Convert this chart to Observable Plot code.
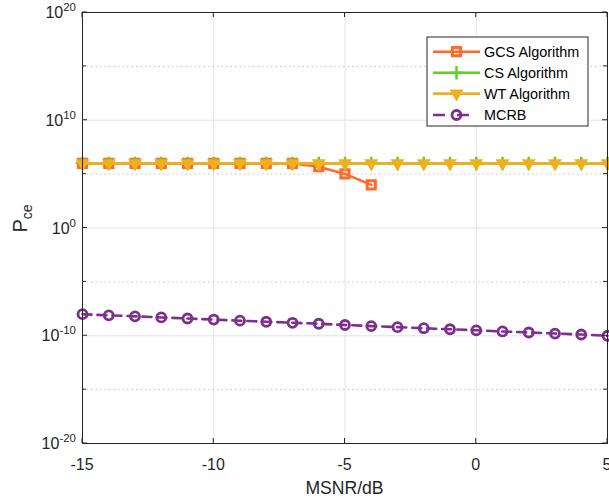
<!DOCTYPE html>
<html><head><meta charset="utf-8">
<script src="https://cdn.jsdelivr.net/npm/d3@7"></script>
<script src="https://cdn.jsdelivr.net/npm/@observablehq/plot@0.6"></script>
<style>
body{margin:0;background:#fff}
svg{font-family:"Liberation Sans",Arial,Helvetica,sans-serif}
</style>
</head><body><div id="chart"></div>
<script>
// ---- data ----
const msnr = [-15,-14,-13,-12,-11,-10,-9,-8,-7,-6,-5,-4,-3,-2,-1,0,1,2,3,4,5];
const gcsX = [-15,-14,-13,-12,-11,-10,-9,-8,-7,-6,-5,-4];
const gcsVals = [1e6,1e6,1e6,1e6,1e6,1e6,1e6,1e6,1e6,4.9e5,1.05e5,1.0e4];
const csVals = [1e6,1e6,1e6,1e6,1e6,1e6,1e6,1e6,1e6,1e6,1e6,1e6,1e6,1e6,1e6,1e6,1e6,1e6,1e6,1e6,1e6];
const wtVals = [1e6,1e6,1e6,1e6,1e6,1e6,1e6,1e6,1e6,1e6,1e6,1e6,1e6,1e6,1e6,1e6,1e6,1e6,1e6,1e6,1e6];
const mcrbVals = [1.0e-8,7.9e-9,6.3e-9,5.0e-9,4.0e-9,3.2e-9,2.5e-9,2.0e-9,1.6e-9,1.3e-9,1.0e-9,
                  7.9e-10,6.3e-10,5.0e-10,4.0e-10,3.2e-10,2.5e-10,2.0e-10,1.6e-10,1.3e-10,1.0e-10];
const seriesNames = ["GCS Algorithm","CS Algorithm","WT Algorithm","MCRB"];
const xTicks = [-15,-10,-5,0,5];
const yMajorTicks = [1e-20,1e-10,1e0,1e10,1e20];
const yMinorTicks = [1e-15,1e-5,1e5,1e15];
const xLabel = "MSNR/dB";

// ---- styles ----
const C_GCS = "#ff6a2b", C_CS = "#5fd21f", C_WT = "#edb120", C_MCRB = "#7e2f8e";
const AX = "#262626";
const LW = 2.6;

const gcs = gcsX.map((x,i)=>({x, y:gcsVals[i]}));
const cs = msnr.map((x,i)=>({x, y:csVals[i]}));
const wt = msnr.map((x,i)=>({x, y:wtVals[i]}));
const mcrb = msnr.map((x,i)=>({x, y:mcrbVals[i]}));

const plot = Plot.plot({
  width: 609, height: 500,
  marginLeft: 82, marginRight: 2, marginTop: 12, marginBottom: 57,
  style: {fontFamily: '"Liberation Sans",Arial,sans-serif', fontSize: "16px", color: AX, background: "#fff", overflow: "visible"},
  x: {domain: [-15, 5]},
  y: {type: "log", domain: [1e-20, 1e20]},
  marks: [
    Plot.ruleX(xTicks.slice(1, -1), {stroke: "#e3e3e3", strokeWidth: 1}),
    Plot.ruleY(yMajorTicks.slice(1, -1), {stroke: "#e3e3e3", strokeWidth: 1}),
    Plot.ruleY(yMinorTicks, {stroke: "#c4c4c4", strokeWidth: 1, strokeDasharray: "1.5,3"}),
    // GCS
    Plot.line(gcs, {x: "x", y: "y", stroke: C_GCS, strokeWidth: LW}),
    Plot.dot(gcs, {x: "x", y: "y", symbol: "square", r: 4.6, stroke: C_GCS, strokeWidth: 3, fill: "none"}),
    // CS
    Plot.line(cs, {x: "x", y: "y", stroke: C_CS, strokeWidth: LW}),
    Plot.dot(cs, {x: "x", y: "y", symbol: "plus", r: 4.4, stroke: C_CS, strokeWidth: 2.5, fill: "none"}),
    // WT
    Plot.line(wt, {x: "x", y: "y", stroke: C_WT, strokeWidth: LW}),
    Plot.dot(wt, {x: "x", y: "y", symbol: "triangle", rotate: 180, r: 4.2, fill: C_WT, stroke: C_WT, strokeWidth: 1.5}),
    // MCRB
    Plot.line(mcrb, {x: "x", y: "y", stroke: C_MCRB, strokeWidth: LW, strokeDasharray: "9,6"}),
    Plot.dot(mcrb, {x: "x", y: "y", symbol: "circle", r: 4.5, stroke: C_MCRB, strokeWidth: 2.8, fill: "none"}),
    Plot.frame({stroke: AX, strokeWidth: 1}),
    Plot.axisX({ticks: xTicks, tickSize: 0, tickPadding: 0, label: null, tickFormat: () => ""}),
    Plot.axisY({ticks: yMajorTicks, tickSize: 0, tickPadding: 0, label: null, tickFormat: () => ""})
  ]
});
document.getElementById("chart").appendChild(plot);

// ---- axis decorations drawn with the plot's own scales ----
const svg = d3.select(plot);
const xs = plot.scale("x"), ys = plot.scale("y");
const X = v => xs.apply(v), Y = v => ys.apply(v);
const [x0, x1] = xs.range, [yb, yt] = ys.range;
const g = svg.append("g").attr("fill", AX).attr("stroke", "none");
const tk = svg.append("g").attr("stroke", AX).attr("stroke-width", 1);

xTicks.forEach(v => {
  const px = X(v);
  tk.append("line").attr("x1", px).attr("x2", px).attr("y1", yb).attr("y2", yb - 5);
  tk.append("line").attr("x1", px).attr("x2", px).attr("y1", yt).attr("y2", yt + 5);
  g.append("text").attr("x", px).attr("y", yb + 26.5).attr("text-anchor", "middle")
    .attr("font-size", 16).text(v < 0 ? "-" + (-v) : String(v));
});
yMajorTicks.forEach(v => {
  const py = Y(v);
  tk.append("line").attr("x1", x0).attr("x2", x0 + 5).attr("y1", py).attr("y2", py);
  tk.append("line").attr("x1", x1).attr("x2", x1 - 5).attr("y1", py).attr("y2", py);
  const t = g.append("text").attr("x", 76).attr("y", py + 6).attr("text-anchor", "end").attr("font-size", 16);
  t.append("tspan").text("10");
  t.append("tspan").attr("dy", -7).attr("font-size", 11.5).text(String(Math.round(Math.log10(v))));
});
yMinorTicks.forEach(v => {
  const py = Y(v);
  tk.append("line").attr("x1", x0).attr("x2", x0 + 4).attr("y1", py).attr("y2", py);
  tk.append("line").attr("x1", x1).attr("x2", x1 - 4).attr("y1", py).attr("y2", py);
});
// axis labels
g.append("text").attr("x", (x0 + x1) / 2).attr("y", 494).attr("text-anchor", "middle")
  .attr("font-size", 17.6).text(xLabel);
const yl = g.append("text").attr("transform", `translate(27,${(yb + yt) / 2 - 9}) rotate(-90)`)
  .attr("text-anchor", "middle").attr("font-size", 20);
yl.append("tspan").text("P");
yl.append("tspan").attr("dy", 4.5).attr("font-size", 14).text("ce");

// ---- legend ----
const lg = svg.append("g").attr("text-anchor", "start");
const LX = 427, LY = 37, LWd = 161, LH = 89;
lg.append("rect").attr("x", LX).attr("y", LY).attr("width", LWd).attr("height", LH)
  .attr("fill", "#fff").attr("stroke", AX).attr("stroke-width", 1);
const rowY = [51.7, 72.7, 93.6, 115];
const styles = [
  {c: C_GCS, sym: d3.symbolSquare, size: Math.PI * 4.6 * 4.6, fill: "none", sw: 3, dash: null},
  {c: C_CS, sym: d3.symbolPlus, size: Math.PI * 4.4 * 4.4, fill: "none", sw: 2.5, dash: null},
  {c: C_WT, sym: d3.symbolTriangle, size: Math.PI * 4.2 * 4.2, fill: C_WT, sw: 1.5, dash: null, rot: 180},
  {c: C_MCRB, sym: d3.symbolCircle, size: Math.PI * 4.5 * 4.5, fill: "none", sw: 2.8, dash: "12,12"}
];
seriesNames.forEach((name, i) => {
  const s = styles[i], y = rowY[i];
  const ln = lg.append("line").attr("x1", 433).attr("x2", 480).attr("y1", y).attr("y2", y)
    .attr("stroke", s.c).attr("stroke-width", LW);
  if (s.dash) ln.attr("stroke-dasharray", s.dash);
  lg.append("path").attr("d", d3.symbol(s.sym, s.size)())
    .attr("transform", `translate(456.5,${y})${s.rot ? " rotate(180)" : ""}`)
    .attr("fill", s.fill).attr("stroke", s.c).attr("stroke-width", s.sw);
  lg.append("text").attr("x", 484).attr("y", y + 5).attr("font-size", 14.4).attr("fill", "#000")
    .attr("text-anchor", "start").text(name);
});
</script>
</body></html>
